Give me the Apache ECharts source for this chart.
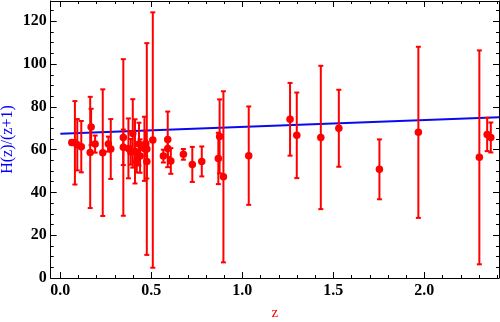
<!DOCTYPE html>
<html><head><meta charset="utf-8">
<script src="https://cdn.jsdelivr.net/npm/echarts@6/dist/echarts.min.js"></script>
<style>html,body{margin:0;padding:0;background:#fff}#c{width:500px;height:322px}</style>
</head><body><div id="c"></div>
<script>
// Data: redshift z, H(z)/(1+z), 1-sigma error
const zVals = [0.063, 0.08, 0.093, 0.115, 0.164, 0.169, 0.191, 0.233, 0.264, 0.277,
  0.346, 0.346, 0.374, 0.387, 0.398, 0.41, 0.42, 0.432, 0.438, 0.462,
  0.469, 0.475, 0.475, 0.508, 0.566, 0.59, 0.59, 0.607, 0.676, 0.725,
  0.777, 0.868, 0.875, 0.896, 1.035, 1.262, 1.299, 1.431, 1.53, 1.753,
  1.967, 2.302, 2.345, 2.365];
const hVals = [63.3, 63.2, 62.3, 61.4, 58.7, 70.6, 62.6, 58.6, 62.6, 60.3,
  65.7, 61.1, 60.6, 59.0, 67.6, 59.2, 54.3, 62.6, 57.0, 60.4,
  62.9, 60.3, 54.5, 64.5, 57.0, 64.8, 60.6, 54.7, 57.8, 53.1,
  54.5, 55.9, 66.2, 47.3, 57.2, 74.2, 66.7, 65.7, 70.0, 50.8,
  68.1, 56.4, 67.1, 65.7];
const errVals = [1.0, 19.5, 12.0, 12.0, 26.0, 8.5, 4.0, 29.6, 3.5, 14.0,
  36.6, 8.3, 14.0, 6.0, 16.0, 15.0, 5.0, 10.0, 7.8, 15.0,
  6.0, 49.5, 8.0, 59.7, 3.0, 13.0, 4.0, 6.0, 2.5, 8.2,
  7.0, 12.0, 17.3, 40.0, 23.0, 17.0, 20.0, 33.5, 18.0, 14.0,
  40.0, 50.0, 7.8, 7.0];
// Fitted line
const fitZ = [0, 2.41];
const fitH = [67.4, 75.1];
// Ticks
const xMajor = [0, 0.5, 1.0, 1.5, 2.0];
const xMinor = [0.1,0.2,0.3,0.4,0.6,0.7,0.8,0.9,1.1,1.2,1.3,1.4,1.6,1.7,1.8,1.9,2.1,2.2,2.3,2.4];
const yMajor = [0, 20, 40, 60, 80, 100, 120];
const yMinor = [5,10,15,25,30,35,45,50,55,65,70,75,85,90,95,105,110,115,125];

const X_MIN = -0.053, X_MAX = 2.41, Y_MIN = 0, Y_MAX = 129.5;
const serif = 'Liberation Serif';

function xAx(pos, ticks, len, labels, lineShow) {
  return {
    type: 'value', position: pos, min: X_MIN, max: X_MAX,
    axisLine: {show: lineShow, onZero: false, lineStyle: {color: '#000', width: 1}},
    axisTick: {show: true, inside: true, length: len, customValues: ticks, lineStyle: {color: '#000'}},
    axisLabel: labels ? {show: true, customValues: ticks, margin: 5, color: '#000',
      fontFamily: serif, fontWeight: 'bold', fontSize: 16, formatter: v => v.toFixed(1)} : {show: false},
    splitLine: {show: false}
  };
}
function yAx(pos, ticks, len, labels, lineShow) {
  return {
    type: 'value', position: pos, min: Y_MIN, max: Y_MAX,
    axisLine: {show: lineShow, onZero: false, lineStyle: {color: '#000', width: 1}},
    axisTick: {show: true, inside: true, length: len, customValues: ticks, lineStyle: {color: '#000'}},
    axisLabel: labels ? {show: true, customValues: ticks, margin: 4, color: '#000',
      fontFamily: serif, fontWeight: 'bold', fontSize: 16} : {show: false},
    splitLine: {show: false}
  };
}

const xAxes = [xAx('bottom', xMajor, 6, true, true), xAx('bottom', xMinor, 3, false, false),
               xAx('top', xMajor, 6, false, true), xAx('top', xMinor, 3, false, false)];
Object.assign(xAxes[0], {name: 'z', nameLocation: 'middle', nameGap: 28, nameMoveOverlap: false,
  nameTextStyle: {color: '#ff0000', fontFamily: serif, fontSize: 15}});
const yAxes = [yAx('left', yMajor, 6, true, true), yAx('left', yMinor, 3, false, false),
               yAx('right', yMajor, 6, false, true), yAx('right', yMinor, 3, false, false)];
Object.assign(yAxes[0], {name: 'H(z)/(z+1)', nameLocation: 'middle', nameGap: 35, nameRotate: 90,
  nameMoveOverlap: false,
  nameTextStyle: {color: '#0000ff', fontFamily: serif, fontSize: 16}});

const pts = zVals.map((z, i) => [z, hVals[i], errVals[i]]);
const fit = fitZ.map((z, i) => [z, fitH[i]]);

const chart = echarts.init(document.getElementById('c'), null, {renderer: 'canvas'});
chart.setOption({
  animation: false,
  backgroundColor: '#fff',
  grid: {left: 50.7, right: 1, top: 1, bottom: 44, containLabel: false, outerBoundsMode: 'none'},
  xAxis: xAxes,
  yAxis: yAxes,
  series: [
    {
      type: 'line', data: fit, xAxisIndex: 0, yAxisIndex: 0, symbol: 'none',
      lineStyle: {color: '#0a0af0', width: 2}, z: 1
    },
    {
      type: 'custom', data: pts, xAxisIndex: 0, yAxisIndex: 0, encode: {x: 0, y: 1}, z: 2,
      renderItem: function (params, api) {
        const x = api.value(0), y = api.value(1), e = api.value(2);
        const t = api.coord([x, y + e]), b = api.coord([x, y - e]);
        const w = 2.5, st = {stroke: '#ff0000', lineWidth: 2};
        return {type: 'group', children: [
          {type: 'line', shape: {x1: t[0], y1: t[1], x2: b[0], y2: b[1]}, style: st},
          {type: 'line', shape: {x1: t[0] - w, y1: t[1], x2: t[0] + w, y2: t[1]}, style: st},
          {type: 'line', shape: {x1: b[0] - w, y1: b[1], x2: b[0] + w, y2: b[1]}, style: st}
        ]};
      }
    },
    {
      type: 'scatter', data: pts, xAxisIndex: 0, yAxisIndex: 0, symbol: 'circle', symbolSize: 7.5,
      itemStyle: {color: '#ff0000', opacity: 1}, z: 3
    }
  ]
});
</script></body></html>
